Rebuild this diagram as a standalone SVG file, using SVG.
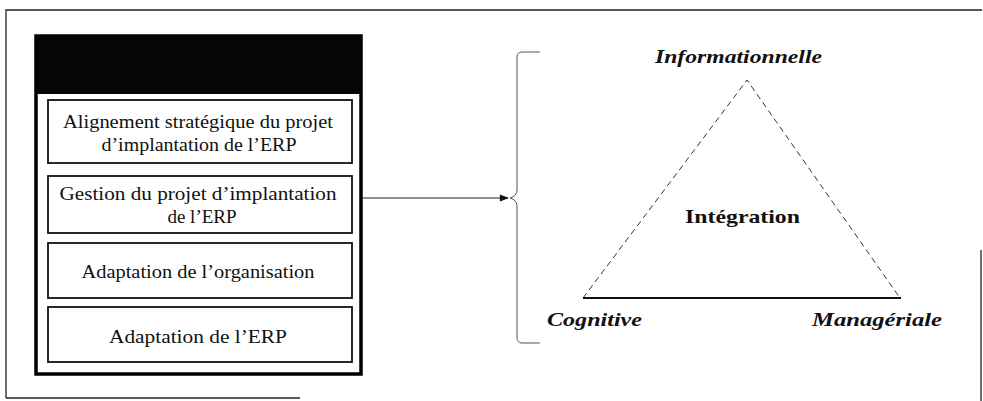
<svg xmlns="http://www.w3.org/2000/svg" width="983" height="401" viewBox="0 0 983 401">
  <defs>
    <marker id="arrow" viewBox="0 0 10 10" refX="9" refY="5" markerWidth="10" markerHeight="9" markerUnits="userSpaceOnUse" orient="auto">
      <path d="M0,1 L10,5 L0,9 Z" fill="#111"/>
    </marker>
  </defs>
  <style>
    .frame { fill: none; stroke: #222; stroke-width: 1.3; }
    .box { fill: #fff; stroke: #111; stroke-width: 1.8; }
    .label { font-family: "Liberation Serif", "DejaVu Serif", serif; font-size: 19px; fill: #111; text-anchor: middle; }
    .pole { font-family: "Liberation Serif", "DejaVu Serif", serif; font-size: 19px; font-weight: bold; font-style: italic; fill: #111; }
    .center { font-family: "Liberation Serif", "DejaVu Serif", serif; font-size: 19px; font-weight: bold; fill: #111; }
    .edge { fill: none; stroke: #222; stroke-width: 1.2; }
  </style>

  <!-- outer frame -->
  <path class="frame" d="M6,398 L6,10 L982,10"/>
  <path class="frame" d="M6,398 L300,398"/>
  <path class="frame" d="M981,250 L981,401"/>

  <!-- left panel: list of dimensions -->
  <g id="panel">
    <rect x="36" y="36" width="325" height="338" fill="#fff" stroke="#000" stroke-width="3.5"/>
    <rect x="36" y="36" width="325" height="58" fill="#050505"/>
  </g>

  <g id="alignement">
    <rect class="box" x="48" y="100" width="304" height="63"/>
    <text class="label" x="198" y="128" textLength="270" lengthAdjust="spacingAndGlyphs">Alignement stratégique du projet</text>
    <text class="label" x="199" y="151" textLength="195" lengthAdjust="spacingAndGlyphs">d’implantation de l’ERP</text>
  </g>

  <g id="gestion">
    <rect class="box" x="48" y="176" width="304" height="57"/>
    <text class="label" x="198" y="200" textLength="277" lengthAdjust="spacingAndGlyphs">Gestion  du projet  d’implantation</text>
    <text class="label" x="202" y="223">de l’ERP</text>
  </g>

  <g id="adaptation-organisation">
    <rect class="box" x="48" y="243" width="304" height="55"/>
    <text class="label" x="198" y="278" textLength="233" lengthAdjust="spacingAndGlyphs">Adaptation de l’organisation</text>
  </g>

  <g id="adaptation-erp">
    <rect class="box" x="48" y="307" width="304" height="55"/>
    <text class="label" x="198" y="343" textLength="178" lengthAdjust="spacingAndGlyphs">Adaptation de l’ERP</text>
  </g>

  <!-- connectors -->
  <g id="connectors">
    <line class="edge" x1="362" y1="198" x2="508" y2="198" marker-end="url(#arrow)"/>
    <!-- curly brace grouping the integration triangle -->
    <path fill="none" stroke="#555" stroke-width="1" d="M540,52 L522,52 Q517,52 517,57 L517,190 Q517,196 510,198 Q517,200 517,206 L517,337 Q517,343 522,343 L540,343"/>
  </g>

  <!-- integration triangle -->
  <g id="triangle">
    <path fill="none" stroke="#333" stroke-width="1" stroke-dasharray="6,4" d="M583,298 L747,80 L900,298"/>
    <line x1="583" y1="298" x2="901" y2="298" stroke="#111" stroke-width="2"/>
  </g>

  <g id="informationnelle">
    <text class="pole" x="655" y="63" textLength="167" lengthAdjust="spacingAndGlyphs">Informationnelle</text>
  </g>
  <g id="integration">
    <text class="center" x="685" y="223" textLength="115" lengthAdjust="spacingAndGlyphs">Intégration</text>
  </g>
  <g id="cognitive">
    <text class="pole" x="547" y="326" textLength="95" lengthAdjust="spacingAndGlyphs">Cognitive</text>
  </g>
  <g id="manageriale">
    <text class="pole" x="812" y="326" textLength="130" lengthAdjust="spacingAndGlyphs">Managériale</text>
  </g>
</svg>
